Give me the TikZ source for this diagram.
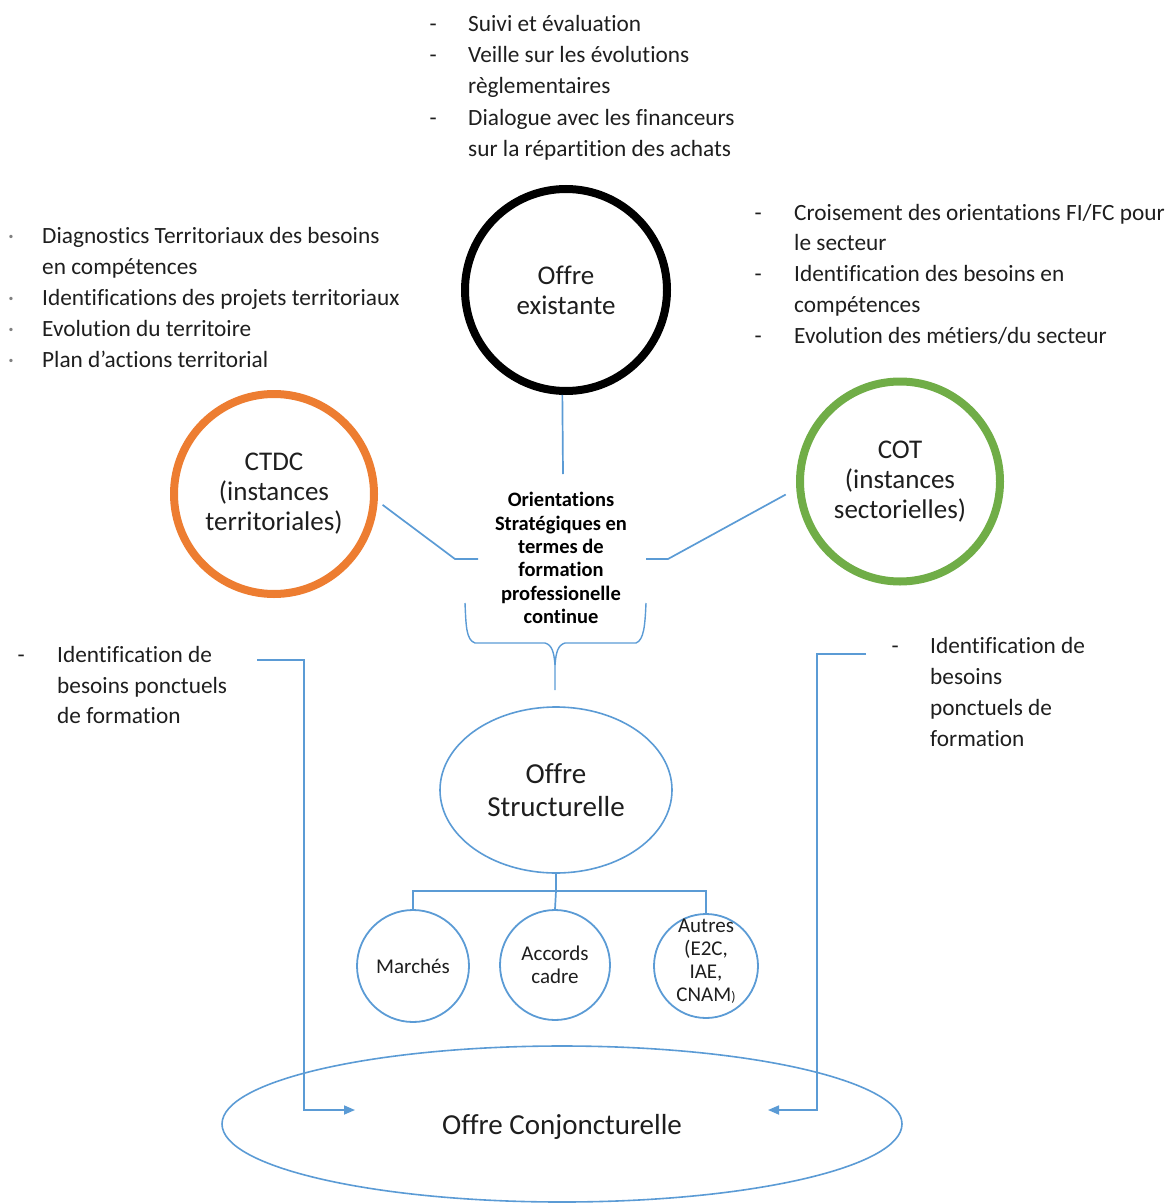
\documentclass[tikz,border=0pt]{standalone}
\usepackage{fontspec}
\setmainfont{Carlito}[Ligatures=CommonOff]
\usetikzlibrary{arrows.meta,shapes.geometric,calc}
\definecolor{bl}{RGB}{91,155,213}
\definecolor{orng}{RGB}{237,125,49}
\definecolor{grn}{RGB}{112,173,71}
\definecolor{textc}{RGB}{30,30,30}
\begin{document}
\begin{tikzpicture}[x=1pt,y=-1pt,
  txt/.style={anchor=base west,inner sep=0pt,font=\fontsize{23.3}{31}\selectfont,text=textc},
  bigring/.style={circle,line width=8pt,minimum size=200pt,inner sep=0pt,align=center,font=\fontsize{27}{30}\selectfont,text=textc},
  bline/.style={draw=bl,line width=1.7pt},
  smallc/.style={circle,draw=bl,line width=1.8pt,inner sep=0pt,align=center,font=\fontsize{21}{23}\selectfont,text=textc},
  arr/.style={bline,-{Triangle[length=11pt,width=9pt]}}]
\useasboundingbox (0,0) rectangle (1170,1204);

% main circles
\node[bigring,draw=black,minimum size=202pt] (exist) at (566,290) {Offre\\existante};
\node[bigring,draw=orng] (ctdc) at (274,494) {CTDC\\(instances\\territoriales)};
\node[bigring,draw=grn] (cot) at (900,481.5) {COT\\(instances\\sectorielles)};

% central text
\node[align=center,inner sep=0pt,font=\fontsize{20.5}{23.4}\selectfont\bfseries,text=black] (orient) at (561,558) {Orientations\\Stratégiques en\\termes de\\formation\\professionelle\\continue};

% connectors to central text
\coordinate (e1) at (563,474);
\draw[bline] (exist.268) -- (e1);
\coordinate (l1) at (455,559);
\coordinate (l2) at (478,559);
\draw[bline,shorten <=6pt] (ctdc.356) -- (l1) -- (l2);
\coordinate (r1) at (668,559);
\coordinate (r2) at (646,559);
\draw[bline,shorten <=12pt] (cot.184) -- (r1) -- (r2);

% brace
\draw[bline,line width=1.4pt] (465,603) .. controls (466,625) and (466,640) .. (475,643) -- (545,643)
  .. controls (552,645) and (554,652) .. (555,665) -- (555,690);
\draw[bline,line width=1.4pt] (555,665) .. controls (556,652) and (558,645) .. (565,643) -- (636,643)
  .. controls (644,640) and (645,625) .. (646,603);

% structural offer
\node[ellipse,draw=bl,line width=1.6pt,minimum width=232pt,minimum height=166pt,inner sep=0pt,align=center,font=\fontsize{29}{33}\selectfont,text=textc] (struct) at (556,790) {Offre\\Structurelle};

\node[smallc,minimum size=112pt] (march) at (413,966) {Marchés};
\node[smallc,minimum size=110pt] (accords) at (555,965) {Accords\\cadre};
\node[smallc,minimum size=104pt] (autres) at (706,966) {};
\node[align=center,inner sep=0pt,font=\fontsize{21}{23}\selectfont,text=textc] (autrestxt) at (706,961) {Autres\\(E2C,\\IAE,\\CNAM{\fontsize{14}{14}\selectfont)}};

\coordinate (j) at (556,891);
\draw[bline] (struct.south) -- (j);
\draw[bline] (march.north) |- (j) -| (autres.north);
\draw[bline] (j) -- (accords.north);

% conjunctural offer
\node[ellipse,draw=bl,line width=1.6pt,minimum width=680pt,minimum height=156pt,inner sep=0pt,text=textc] (conj) at (562,1124) {};
\node[inner sep=0pt,font=\fontsize{29}{33}\selectfont,text=textc] (conjtxt) at (562,1127) {Offre Conjoncturelle};

% side arrows
\coordinate (la) at (257,660);
\coordinate (lb) at (304,660);
\coordinate (lc) at (304,1110);
\coordinate (ld) at (355,1110);
\draw[arr] (la) -- (lb) -- (lc) -- (ld);
\coordinate (ra) at (866,654);
\coordinate (rb) at (817,654);
\coordinate (rc) at (817,1110);
\coordinate (rd) at (768,1110);
\draw[arr] (ra) -- (rb) -- (rc) -- (rd);

% top text
\node[txt] (td1) at (429.5,32) {-};
\node[txt] (tt1) at (468,32) {Suivi et évaluation};
\node[txt] (td2) at (429.5,63) {-};
\node[txt] (tt2) at (468,63) {Veille sur les évolutions};
\node[txt] (tt3) at (468,94) {règlementaires};
\node[txt] (td3) at (429.5,125) {-};
\node[txt] (tt4) at (468,125) {Dialogue avec les financeurs};
\node[txt] (tt5) at (468,157) {sur la répartition des achats};

% left top text
\node[txt,text=gray] (lb1) at (8,243) {·};
\node[txt] (lt1) at (42,243) {Diagnostics Territoriaux des besoins};
\node[txt] (lt2) at (42,274) {en compétences};
\node[txt,text=gray] (lb2) at (8,305) {·};
\node[txt] (lt3) at (42,305) {Identifications des projets territoriaux};
\node[txt,text=gray] (lb3) at (8,336) {·};
\node[txt] (lt4) at (42,336) {Evolution du territoire};
\node[txt,text=gray] (lb4) at (8,367) {·};
\node[txt] (lt5) at (42,367) {Plan d’actions territorial};

% right top text
\node[txt] (rd1) at (754.5,220) {-};
\node[txt] (rt1) at (794,220) {Croisement des orientations FI/FC pour};
\node[txt] (rt2) at (794,250) {le secteur};
\node[txt] (rd2) at (754.5,281) {-};
\node[txt] (rt3) at (794,281) {Identification des besoins en};
\node[txt] (rt4) at (794,312) {compétences};
\node[txt] (rd3) at (754.5,343) {-};
\node[txt] (rt5) at (794,343) {Evolution des métiers/du secteur};

% left bottom text
\node[txt] (bd1) at (17.5,662) {-};
\node[txt] (bt1) at (57,662) {Identification de};
\node[txt] (bt2) at (57,693) {besoins ponctuels};
\node[txt] (bt3) at (57,723) {de formation};

% right bottom text
\node[txt] (cd1) at (891.5,653) {-};
\node[txt] (ct1) at (930,653) {Identification de};
\node[txt] (ct2) at (930,684) {besoins};
\node[txt] (ct3) at (930,715) {ponctuels de};
\node[txt] (ct4) at (930,746) {formation};
\end{tikzpicture}
\end{document}
